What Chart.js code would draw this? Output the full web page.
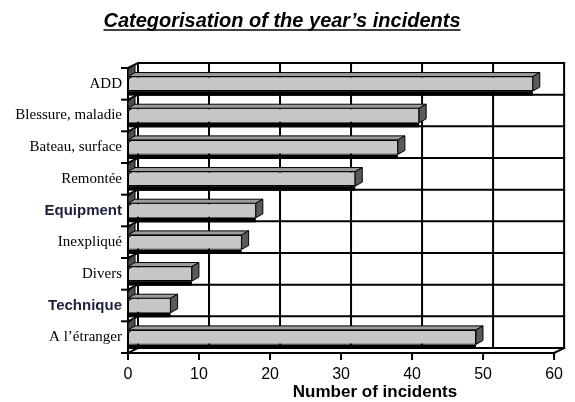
<!DOCTYPE html>
<html>
<head>
<meta charset="utf-8">
<script src="https://cdn.jsdelivr.net/npm/chart.js@4.4.1/dist/chart.umd.min.js"></script>
<style>
  html, body { margin: 0; padding: 0; background: #fff; }
  #chart { display: block; }
</style>
</head>
<body>
<canvas id="chart" width="575" height="402"></canvas>
<script>
// Incident categories and counts for the year
const categories = ['ADD', 'Blessure, maladie', 'Bateau, surface', 'Remontée', 'Equipment',
                    'Inexpliqué', 'Divers', 'Technique', 'A l’étranger'];
const incidents = [57, 41, 38, 32, 18, 16, 9, 6, 49];
const xTicks = [0, 10, 20, 30, 40, 50, 60];
const sansLabels = ['Equipment', 'Technique'];
const chartTitle = 'Categorisation of the year’s incidents';
const axisTitle = 'Number of incidents';

// depth of the 3D box (walls) and of the bars
const WALL = { dx: 10, dy: -5 };
const BAR = { dx: 7, dy: -4 };

const SANS = "'Liberation Sans', Arial, sans-serif";
const SERIF = "'Liberation Serif', 'Times New Roman', serif";

function seg(ctx, x1, y1, x2, y2) {
  ctx.beginPath();
  ctx.moveTo(x1, y1);
  ctx.lineTo(x2, y2);
  ctx.stroke();
}
function poly(ctx, pts, fill) {
  ctx.beginPath();
  ctx.moveTo(pts[0][0], pts[0][1]);
  for (let i = 1; i < pts.length; i++) ctx.lineTo(pts[i][0], pts[i][1]);
  ctx.closePath();
  ctx.fillStyle = fill;
  ctx.fill();
  ctx.stroke();
}

// back wall, left wall and floor of the 3D plot box
const box3d = {
  id: 'box3d',
  beforeDatasetsDraw(chart) {
    const { ctx, chartArea: a, scales: { x, y } } = chart;
    const dx = WALL.dx, dy = WALL.dy;
    ctx.save();
    ctx.strokeStyle = '#000';
    ctx.lineWidth = 2;
    ctx.lineCap = 'square';
    // vertical gridlines on the back wall
    xTicks.forEach(v => {
      const px = x.getPixelForValue(v) + dx;
      seg(ctx, px, a.top + dy, px, a.bottom + dy);
    });
    // category boundaries on the back wall and across the left wall
    for (let i = 0; i <= categories.length; i++) {
      const py = y.getPixelForValue(i - 0.5);
      seg(ctx, a.left + dx, py + dy, x.getPixelForValue(60) + dx, py + dy);
      seg(ctx, a.left, py, a.left + dx, py + dy);
    }
    // front edge of the left wall (value axis origin)
    seg(ctx, a.left, a.top, a.left, a.bottom);
    // floor
    const xr = x.getPixelForValue(60);
    seg(ctx, a.left, a.bottom, xr, a.bottom);
    seg(ctx, xr, a.bottom, xr + dx, a.bottom + dy);
    // tick marks
    xTicks.forEach(v => {
      const px = x.getPixelForValue(v);
      seg(ctx, px, a.bottom, px, a.bottom + 6);
    });
    for (let i = 0; i <= categories.length; i++) {
      const py = y.getPixelForValue(i - 0.5);
      seg(ctx, a.left - 6, py, a.left, py);
    }
    ctx.restore();
  },
  afterDatasetsDraw(chart) {
    const { ctx, scales: { y } } = chart;
    const meta = chart.getDatasetMeta(0);
    const half = (y.getPixelForValue(1) - y.getPixelForValue(0)) / 2;
    ctx.save();
    ctx.strokeStyle = '#000';
    ctx.lineWidth = 1;
    ctx.lineJoin = 'miter';
    meta.data.forEach(bar => {
      const top = bar.y - bar.height / 2;
      const bottom = bar.y + bar.height / 2;
      const rowTop = bar.y - half;
      const rowBottomBack = bar.y + half + WALL.dy;
      // dark band below each bar down to the back-wall gridline
      ctx.fillStyle = '#000';
      ctx.fillRect(bar.base, bottom, bar.x - bar.base, Math.max(2, rowBottomBack - bottom + 1));
      // left end in shadow
      poly(ctx, [[bar.base, rowTop + 2], [bar.base + BAR.dx, rowTop + 2 + BAR.dy - 2],
                 [bar.base + BAR.dx, top + BAR.dy + 2], [bar.base, top + 3]], '#4d4d4d');
      // top face
      poly(ctx, [[bar.base, top], [bar.x, top], [bar.x + BAR.dx, top + BAR.dy],
                 [bar.base + BAR.dx, top + BAR.dy]], '#9c9c9c');
      // end face
      poly(ctx, [[bar.x, top], [bar.x + BAR.dx, top + BAR.dy],
                 [bar.x + BAR.dx, bottom + BAR.dy], [bar.x, bottom]], '#5a5a5a');
    });
    ctx.restore();
  },
  afterDraw(chart) {
    const { ctx } = chart;
    ctx.save();
    ctx.fillStyle = '#000';
    ctx.textAlign = 'center';
    ctx.textBaseline = 'alphabetic';
    // chart title, underlined
    ctx.font = `italic bold 20px ${SANS}`;
    const cx = 282, by = 27;
    ctx.fillText(chartTitle, cx, by);
    const w = ctx.measureText(chartTitle).width;
    ctx.strokeStyle = '#000';
    ctx.lineWidth = 1.5;
    seg(ctx, cx - w / 2, by + 3, cx + w / 2, by + 3);
    // value axis title
    ctx.font = `bold 17px ${SANS}`;
    ctx.fillText(axisTitle, 375, 397);
    ctx.restore();
  }
};

new Chart(document.getElementById('chart'), {
  type: 'bar',
  data: {
    labels: categories,
    datasets: [{
      data: incidents,
      backgroundColor: '#c6c6c6',
      borderColor: '#000',
      borderWidth: 1,
      borderSkipped: false,
      categoryPercentage: 1,
      barPercentage: 0.46
    }]
  },
  options: {
    indexAxis: 'y',
    responsive: false,
    animation: false,
    events: [],
    layout: { padding: { top: 68, right: 14, left: 0, bottom: 0 } },
    plugins: { legend: { display: false }, title: { display: false }, tooltip: { enabled: false } },
    scales: {
      x: {
        type: 'linear',
        min: 0,
        max: 60,
        afterBuildTicks: s => { s.ticks = xTicks.map(v => ({ value: v })); },
        afterFit: s => { s.height = 49; },
        grid: { display: false, drawTicks: false },
        border: { display: false },
        ticks: { color: '#000', padding: 12, font: { family: SANS, size: 16 } }
      },
      y: {
        afterFit: s => { s.width = 128; },
        grid: { display: false, drawTicks: false },
        border: { display: false },
        ticks: {
          padding: 6,
          color: ctx => sansLabels.includes(categories[ctx.index]) ? '#1c1f44' : '#000',
          font: ctx => sansLabels.includes(categories[ctx.index])
            ? { family: SANS, size: 15, weight: 'bold' }
            : { family: SERIF, size: 15, weight: 'normal' }
        }
      }
    }
  },
  plugins: [box3d]
});
</script>
</body>
</html>
